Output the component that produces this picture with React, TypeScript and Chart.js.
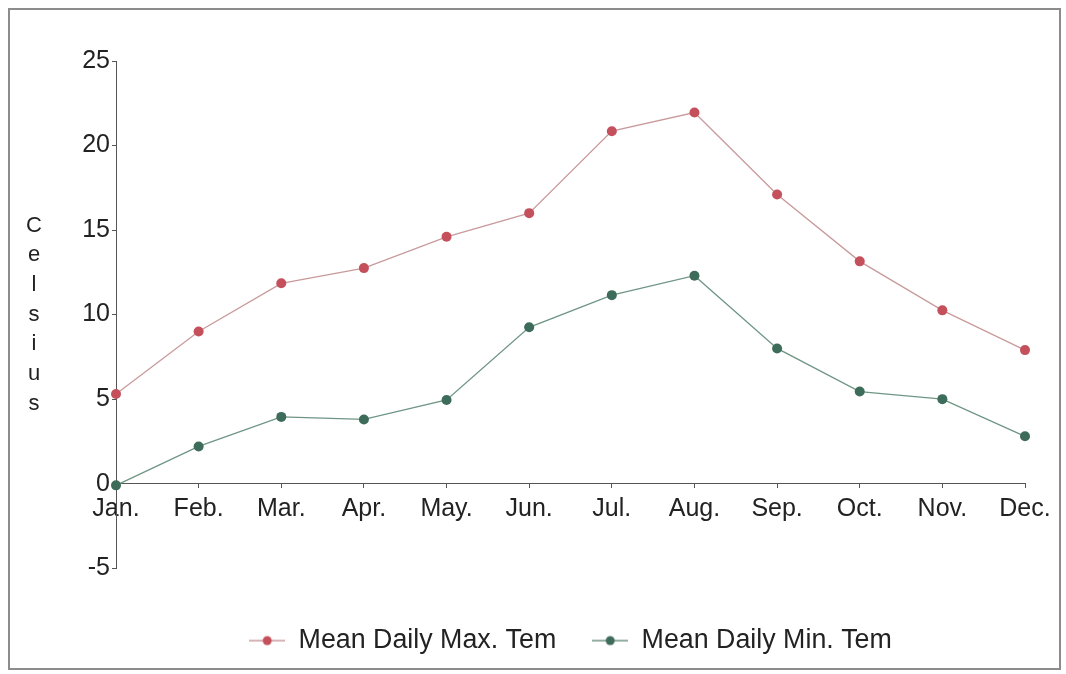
import React, { useEffect, useRef } from "react";
import { Chart, registerables } from "chart.js";

Chart.register(...registerables);

const months = ["Jan.", "Feb.", "Mar.", "Apr.", "May.", "Jun.", "Jul.", "Aug.", "Sep.", "Oct.", "Nov.", "Dec."];
const maxTemp = [5.3, 9.0, 11.85, 12.75, 14.6, 16.0, 20.85, 21.95, 17.1, 13.15, 10.25, 7.9];
const minTemp = [-0.1, 2.2, 3.95, 3.8, 4.95, 9.25, 11.15, 12.3, 8.0, 5.45, 5.0, 2.8];
const seriesNames = ["Mean Daily Max. Tem", "Mean Daily Min. Tem"];
const yTitle = "Celsius";

const FONT = "'Liberation Sans', Arial, sans-serif";
const TEXT = "#222222";
const AXIS = "#555555";
const MAX_LINE = "#c99a9c";
const MAX_POINT = "#c4505c";
const MIN_LINE = "#6f9585";
const MIN_POINT = "#3e6c5a";

function legendMarker(line: string, dot: string): HTMLCanvasElement {
  const c = document.createElement("canvas");
  c.width = 36;
  c.height = 12;
  const ctx = c.getContext("2d")!;
  ctx.strokeStyle = line;
  ctx.lineWidth = 1.5;
  ctx.beginPath();
  ctx.moveTo(0, 6);
  ctx.lineTo(36, 6);
  ctx.stroke();
  ctx.fillStyle = dot;
  ctx.beginPath();
  ctx.arc(18, 6, 4.5, 0, Math.PI * 2);
  ctx.fill();
  return c;
}

const framePlugin = {
  id: "frameAndTitle",
  beforeDraw(chart: any) {
    const { ctx } = chart;
    ctx.save();
    ctx.fillStyle = "#ffffff";
    ctx.fillRect(0, 0, chart.width, chart.height);
    ctx.strokeStyle = "#8c8c8c";
    ctx.lineWidth = 2;
    ctx.strokeRect(9, 9, chart.width - 15, chart.height - 14);
    ctx.restore();
  },
  afterDraw(chart: any) {
    const { ctx, chartArea } = chart;
    ctx.save();
    ctx.fillStyle = TEXT;
    ctx.font = `22px ${FONT}`;
    ctx.textAlign = "center";
    ctx.textBaseline = "middle";
    const letters = yTitle.split("");
    const step = 29.7;
    const mid = (chartArea.top + chartArea.bottom) / 2;
    const start = mid - ((letters.length - 1) * step) / 2;
    letters.forEach((l, i) => ctx.fillText(l, 34, start + i * step));
    ctx.restore();
  },
};

export default function App() {
  const ref = useRef<HTMLCanvasElement | null>(null);

  useEffect(() => {
    if (!ref.current) return;
    const markers = [legendMarker(MAX_LINE, MAX_POINT), legendMarker(MIN_LINE, MIN_POINT)];
    const chart = new Chart(ref.current, {
      type: "line",
      data: {
        labels: months,
        datasets: [
          {
            label: seriesNames[0],
            data: maxTemp,
            borderColor: MAX_LINE,
            backgroundColor: MAX_POINT,
            pointBackgroundColor: MAX_POINT,
            pointBorderColor: MAX_POINT,
            borderWidth: 1.3,
            pointRadius: 5,
            pointBorderWidth: 0,
            tension: 0,
          },
          {
            label: seriesNames[1],
            data: minTemp,
            borderColor: MIN_LINE,
            backgroundColor: MIN_POINT,
            pointBackgroundColor: MIN_POINT,
            pointBorderColor: MIN_POINT,
            borderWidth: 1.3,
            pointRadius: 5,
            pointBorderWidth: 0,
            tension: 0,
          },
        ],
      },
      options: {
        responsive: false,
        animation: false,
        layout: { padding: { top: 61, right: 41, bottom: 10, left: 0 } },
        scales: {
          x: {
            type: "category",
            position: { y: 0 },
            offset: false,
            grid: { drawOnChartArea: false, drawTicks: true, tickLength: 4, color: AXIS },
            border: { display: true, color: AXIS, width: 1 },
            ticks: { color: TEXT, font: { family: FONT, size: 25 }, padding: 6, maxRotation: 0, autoSkip: false },
          },
          y: {
            min: -5,
            max: 25,
            position: "left",
            afterFit(scale: any) {
              scale.width = 116;
            },
            grid: { drawOnChartArea: false, drawTicks: true, tickLength: 4, color: AXIS },
            border: { display: true, color: AXIS, width: 1 },
            ticks: { stepSize: 5, color: TEXT, font: { family: FONT, size: 25 }, padding: 2 },
          },
        },
        plugins: {
          tooltip: { enabled: false },
          legend: {
            display: true,
            position: "bottom",
            fullSize: false,
            title: { display: true, text: "", padding: 0, font: { size: 23, lineHeight: 1 } },
            labels: {
              color: TEXT,
              font: { family: FONT, size: 26.8 },
              usePointStyle: true,
              pointStyleWidth: 36,
              padding: 36,
              generateLabels(ch: any) {
                const items = Chart.defaults.plugins.legend.labels.generateLabels(ch);
                return items.map((it: any, i: number) => ({ ...it, pointStyle: markers[i] }));
              },
            },
          },
        },
      },
      plugins: [framePlugin],
    });
    return () => chart.destroy();
  }, []);

  return (
    <div style={{ position: "fixed", left: 0, top: 0, width: 1066, height: 674, background: "#fff" }}>
      <canvas ref={ref} width={1066} height={674} style={{ display: "block" }} />
    </div>
  );
}
